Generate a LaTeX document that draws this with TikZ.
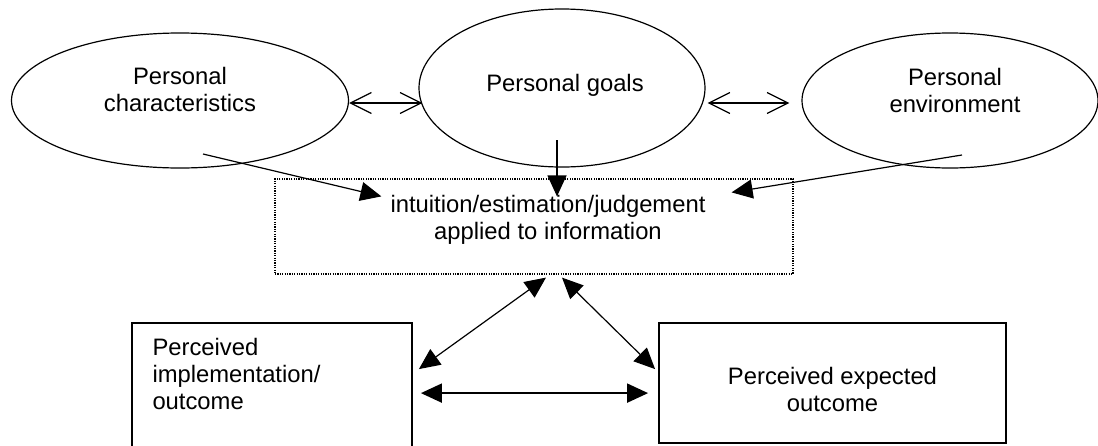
\documentclass[tikz,border=0pt]{standalone}
\usepackage{fontspec}
\setmainfont{Liberation Sans}
\usetikzlibrary{positioning}
\usetikzlibrary{arrows.meta}
\usetikzlibrary{shapes.geometric}

\begin{document}
\begin{tikzpicture}[x=0.5pt,y=-0.5pt,
    font=\fontsize{11.9pt}{13.5pt}\selectfont,
    oval/.style={ellipse,draw,line width=0.6pt,inner sep=0pt},
    box/.style={rectangle,draw,line width=0.9pt,inner sep=0pt},
    txt/.style={inner sep=0pt,align=center},
    oneway/.style={-{Triangle[length=10.5pt,width=9.5pt]},line width=0.6pt},
    twoway/.style={{Triangle[length=10.5pt,width=9.5pt]}-{Triangle[length=10.5pt,width=9.5pt]},line width=0.6pt},
    barbs/.style={{Straight Barb[length=10.5pt,width=10.5pt]}-{Straight Barb[length=10.5pt,width=10.5pt]},line width=0.6pt}]
   \path[use as bounding box,clip] (0,0) rectangle (1098,445);

   % the three ovals
   \node[oval,minimum width=168.5pt,minimum height=67.5pt] (pc) at (180,100.5) {};
   \node[oval,minimum width=143pt,minimum height=79pt] (pg) at (562,88) {};
   \node[oval,minimum width=148pt,minimum height=67.5pt] (pe) at (950,100.5) {};
   \node[txt] at ([shift={(0,-11)}]pc.center) {Personal\\characteristics};
   \node[txt] at ([shift={(3,-2.5)}]pg.center) {Personal goals};
   \node[txt] at ([shift={(5,-10.5)}]pe.center) {Personal\\environment};

   % boxes
   \node[box,dash pattern=on 0.6pt off 0.6pt,line width=0.6pt,minimum width=259pt,minimum height=47.5pt] (info) at (534,226.5) {};
   \node[txt] at ([shift={(14,-6.5)}]info.center) {intuition/estimation/judgement\\applied to information};
   \node[box,minimum width=140pt,minimum height=63.5pt] (impl) at (272,386.5) {};
   \node[box,minimum width=173.5pt,minimum height=60pt] (expo) at (832.5,383) {};
   \node[txt,align=left,below right=7.75pt and 10.5pt of impl.north west] {Perceived\\implementation/\\outcome};
   \node[txt] at ([shift={(0,6.5)}]expo.center) {Perceived expected\\outcome};

   \draw[barbs] ([shift={(0,2.5)}]pc.east) -- ([shift={(4,15)}]pg.west);
   \draw[barbs] ([shift={(2,15)}]pg.east) -- ([shift={(-12,2.5)}]pe.west);
   \draw[oneway] ([shift={(23,53.5)}]pc.center) -- ([shift={(107,18)}]info.north west);
   \draw[oneway] ([shift={(-5,52)}]pg.center) -- ([shift={(23,18)}]info.north);
   \draw[oneway] ([shift={(12,54.5)}]pe.center) -- ([shift={(-62,14)}]info.north east);
   \draw[twoway] ([shift={(6,47)}]impl.north east) -- ([shift={(12,3)}]info.south);
   \draw[twoway] ([shift={(28,3)}]info.south) -- ([shift={(-3,47)}]expo.north west);
   \draw[twoway,line width=0.9pt] ([shift={(8,71)}]impl.north east) -- ([shift={(-10,71)}]expo.north west);
\end{tikzpicture}
\end{document}
